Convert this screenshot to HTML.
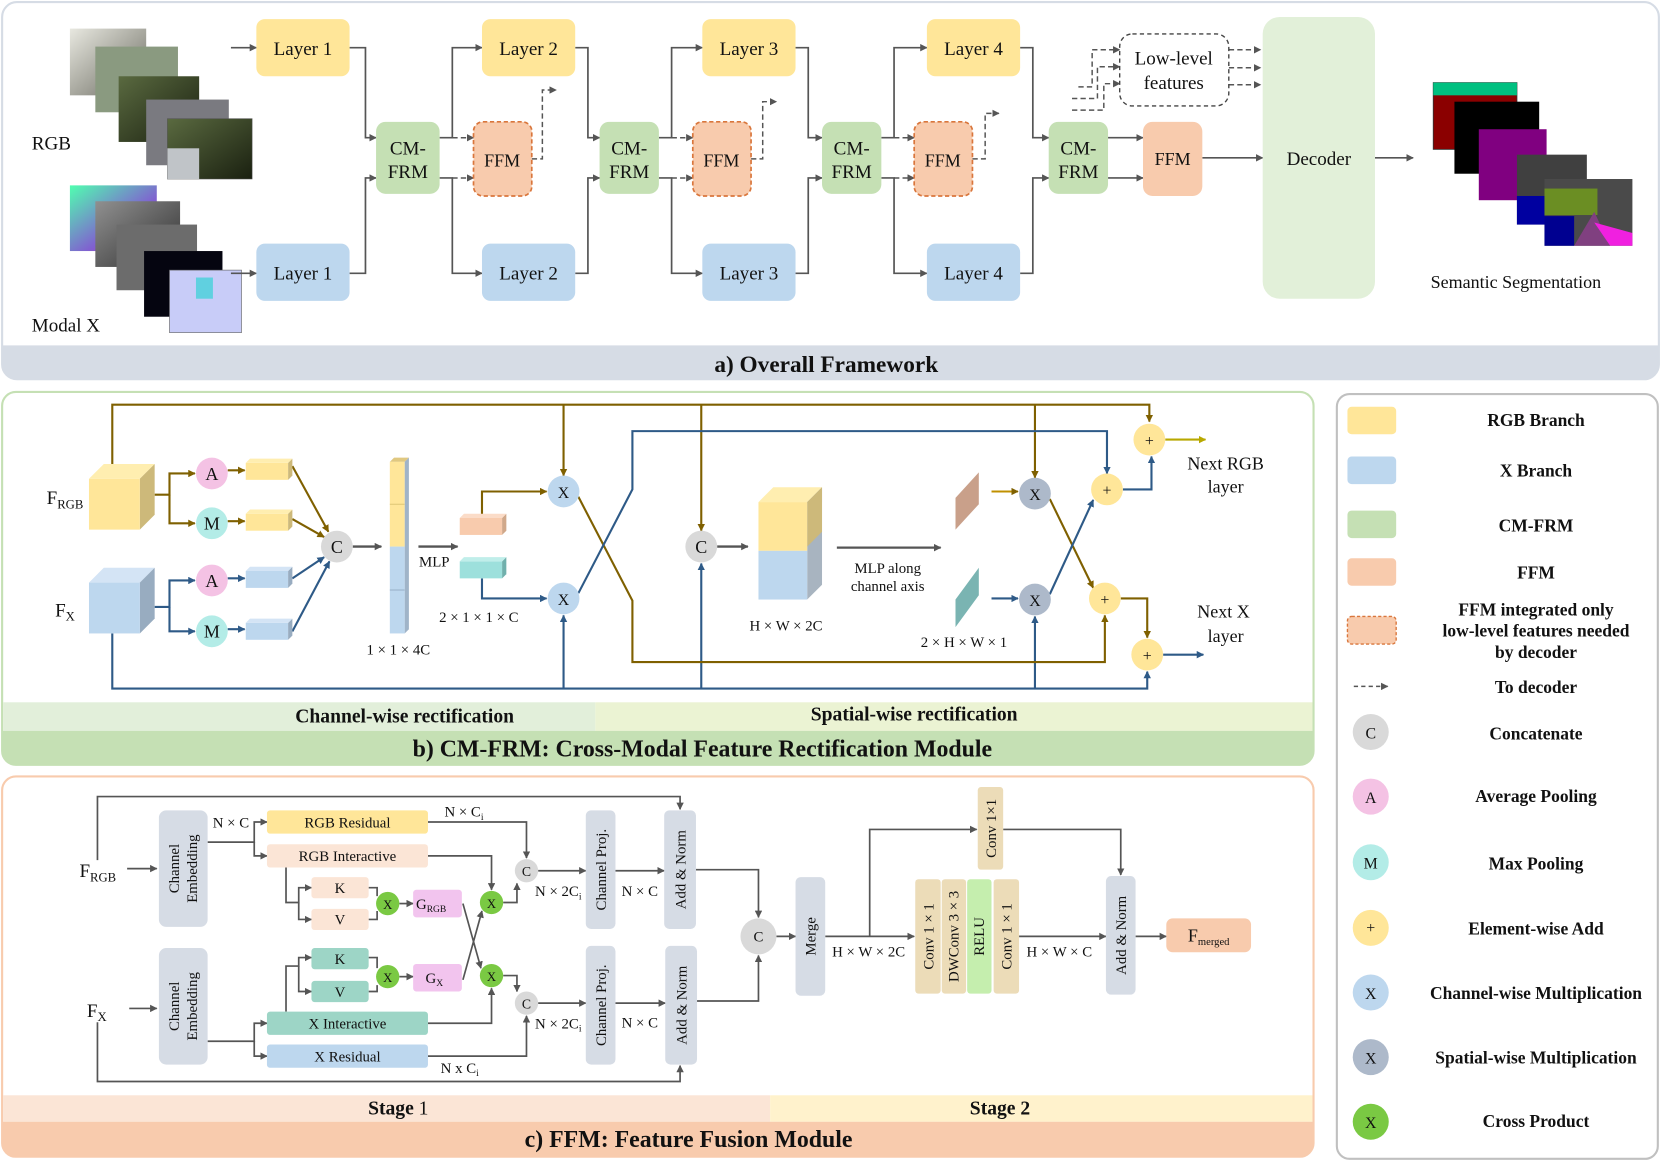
<!DOCTYPE html>
<html><head><meta charset="utf-8"><style>
html,body{margin:0;padding:0;background:#fff;}
svg{display:block;}
text{font-family:"Liberation Serif",serif;fill:#111;}
.b{font-weight:bold;}
</style></head><body>
<svg width="1661" height="1167" viewBox="0 0 1568 1101.7" preserveAspectRatio="none" xmlns="http://www.w3.org/2000/svg">
<defs>
<marker id="ag" viewBox="0 0 10 10" refX="9" refY="5" markerWidth="7" markerHeight="7" markerUnits="userSpaceOnUse" orient="auto"><path d="M0,0L10,5L0,10z" fill="#555"/></marker>
<marker id="ab" viewBox="0 0 10 10" refX="9" refY="5" markerWidth="7" markerHeight="7" markerUnits="userSpaceOnUse" orient="auto"><path d="M0,0L10,5L0,10z" fill="#7f6000"/></marker>
<marker id="au" viewBox="0 0 10 10" refX="9" refY="5" markerWidth="7" markerHeight="7" markerUnits="userSpaceOnUse" orient="auto"><path d="M0,0L10,5L0,10z" fill="#2e5a87"/></marker>
<marker id="ay" viewBox="0 0 10 10" refX="9" refY="5" markerWidth="7" markerHeight="7" markerUnits="userSpaceOnUse" orient="auto"><path d="M0,0L10,5L0,10z" fill="#b8a800"/></marker>
<linearGradient id="g1" x1="0" y1="0" x2="1" y2="1"><stop offset="0" stop-color="#e8e8e0"/><stop offset="1" stop-color="#6a6a60"/></linearGradient>
<linearGradient id="g2" x1="0" y1="0" x2="1" y2="1"><stop offset="0" stop-color="#5a6a40"/><stop offset="1" stop-color="#1a2010"/></linearGradient>
<linearGradient id="g3" x1="0" y1="0" x2="1" y2="1"><stop offset="0" stop-color="#50ffb0"/><stop offset="0.6" stop-color="#8060d0"/><stop offset="1" stop-color="#d020a0"/></linearGradient>
<linearGradient id="g4" x1="0" y1="0" x2="1" y2="1"><stop offset="0" stop-color="#909090"/><stop offset="1" stop-color="#303030"/></linearGradient>
</defs>

<!-- ===== Section a ===== -->
<rect x="2" y="2" width="1564" height="356" rx="14" fill="#fff" stroke="#d6dce5" stroke-width="2"/>
<path d="M2,326 H1566 V344 a14,14 0 0 1 -14,14 H16 a14,14 0 0 1 -14,-14 Z" fill="#d6dce5"/>
<text x="780" y="351" font-size="22" class="b" text-anchor="middle">a)  Overall Framework</text>

<rect x="66" y="27" width="72" height="63" fill="url(#g1)"/>
<rect x="90" y="44" width="78" height="62" fill="#8a9a80"/>
<rect x="112" y="72" width="76" height="62" fill="url(#g2)"/>
<rect x="138" y="94" width="78" height="62" fill="#7a7a80"/>
<rect x="158" y="112" width="80" height="57" fill="url(#g2)" stroke="#555" stroke-width="0.5"/>
<rect x="158" y="140" width="30" height="29" fill="#c0c4c8"/>
<text x="30" y="141" font-size="18">RGB</text>
<rect x="66" y="175" width="82" height="62" fill="url(#g3)"/>
<rect x="90" y="190" width="80" height="62" fill="url(#g4)"/>
<rect x="110" y="212" width="76" height="62" fill="#6c6c6c"/>
<rect x="136" y="237" width="74" height="62" fill="#050510"/>
<rect x="160" y="255" width="68" height="59" fill="#c8ccf8" stroke="#666" stroke-width="0.6"/>
<rect x="185" y="262" width="16" height="20" fill="#60d0e0"/>
<text x="30" y="313" font-size="18">Modal X</text>

<g fill="none" stroke="#555" stroke-width="1.6">
<path d="M218,45H242" marker-end="url(#ag)"/>
<path d="M218,258H242" marker-end="url(#ag)"/>
<path d="M330,45H345V130H355" marker-end="url(#ag)"/>
<path d="M330,258H345V168H355" marker-end="url(#ag)"/>
<path d="M415,130H427V45H455" marker-end="url(#ag)"/>
<path d="M415,168H427V258H455" marker-end="url(#ag)"/>
<path d="M543,45H555V130H566" marker-end="url(#ag)"/>
<path d="M543,258H555V168H566" marker-end="url(#ag)"/>
<path d="M622,130H634V45H663" marker-end="url(#ag)"/>
<path d="M622,168H634V258H663" marker-end="url(#ag)"/>
<path d="M751,45H763V130H776" marker-end="url(#ag)"/>
<path d="M751,258H763V168H776" marker-end="url(#ag)"/>
<path d="M832,130H844V45H875" marker-end="url(#ag)"/>
<path d="M832,168H844V258H875" marker-end="url(#ag)"/>
<path d="M963,45H975V130H990" marker-end="url(#ag)"/>
<path d="M963,258H975V168H990" marker-end="url(#ag)"/>
<path d="M1046,130H1079" marker-end="url(#ag)"/>
<path d="M1046,168H1079" marker-end="url(#ag)"/>
<path d="M1135,149H1192" marker-end="url(#ag)"/>
<path d="M1298,149H1334" marker-end="url(#ag)"/>
</g>
<g fill="none" stroke="#555" stroke-width="1.4" stroke-dasharray="5,3">
<path d="M427,130H447" marker-end="url(#ag)"/>
<path d="M427,168H447" marker-end="url(#ag)"/>
<path d="M502,150H512V85H525" marker-end="url(#ag)"/>
<path d="M634,130H654" marker-end="url(#ag)"/>
<path d="M634,168H654" marker-end="url(#ag)"/>
<path d="M709,150H720V96H733" marker-end="url(#ag)"/>
<path d="M844,130H863" marker-end="url(#ag)"/>
<path d="M844,168H863" marker-end="url(#ag)"/>
<path d="M918,150H930V107H943" marker-end="url(#ag)"/>
<path d="M1018,82H1031V47H1057" marker-end="url(#ag)"/>
<path d="M1012,93H1036V63H1057" marker-end="url(#ag)"/>
<path d="M1012,104H1042V79H1057" marker-end="url(#ag)"/>
<path d="M1160,47H1190" marker-end="url(#ag)"/>
<path d="M1160,64H1190" marker-end="url(#ag)"/>
<path d="M1160,80H1190" marker-end="url(#ag)"/>
</g>

<g font-size="18" text-anchor="middle">
<rect x="242" y="18" width="88" height="54" rx="8" fill="#ffe699"/><text x="286" y="52">Layer 1</text>
<rect x="242" y="230" width="88" height="54" rx="8" fill="#bdd7ee"/><text x="286" y="264">Layer 1</text>
<rect x="455" y="18" width="88" height="54" rx="8" fill="#ffe699"/><text x="499" y="52">Layer 2</text>
<rect x="455" y="230" width="88" height="54" rx="8" fill="#bdd7ee"/><text x="499" y="264">Layer 2</text>
<rect x="663" y="18" width="88" height="54" rx="8" fill="#ffe699"/><text x="707" y="52">Layer 3</text>
<rect x="663" y="230" width="88" height="54" rx="8" fill="#bdd7ee"/><text x="707" y="264">Layer 3</text>
<rect x="875" y="18" width="88" height="54" rx="8" fill="#ffe699"/><text x="919" y="52">Layer 4</text>
<rect x="875" y="230" width="88" height="54" rx="8" fill="#bdd7ee"/><text x="919" y="264">Layer 4</text>
<rect x="355" y="115" width="60" height="68" rx="9" fill="#c5e0b4"/><text x="385" y="146">CM-</text><text x="385" y="168">FRM</text>
<rect x="566" y="115" width="56" height="68" rx="9" fill="#c5e0b4"/><text x="594" y="146">CM-</text><text x="594" y="168">FRM</text>
<rect x="776" y="115" width="56" height="68" rx="9" fill="#c5e0b4"/><text x="804" y="146">CM-</text><text x="804" y="168">FRM</text>
<rect x="990" y="115" width="56" height="68" rx="9" fill="#c5e0b4"/><text x="1018" y="146">CM-</text><text x="1018" y="168">FRM</text>
<g font-size="17">
<rect x="447" y="115" width="55" height="70" rx="9" fill="#f8cbad" stroke="#d9763c" stroke-width="1.6" stroke-dasharray="4,2.5"/><text x="474" y="157">FFM</text>
<rect x="654" y="115" width="55" height="70" rx="9" fill="#f8cbad" stroke="#d9763c" stroke-width="1.6" stroke-dasharray="4,2.5"/><text x="681" y="157">FFM</text>
<rect x="863" y="115" width="55" height="70" rx="9" fill="#f8cbad" stroke="#d9763c" stroke-width="1.6" stroke-dasharray="4,2.5"/><text x="890" y="157">FFM</text>
<rect x="1079" y="115" width="56" height="70" rx="9" fill="#f8cbad"/><text x="1107" y="156">FFM</text>
</g>
<rect x="1057" y="32" width="103" height="68" rx="12" fill="#fff" stroke="#444" stroke-width="1.3" stroke-dasharray="4,3"/>
<text x="1108" y="61" font-size="18">Low-level</text><text x="1108" y="84" font-size="18">features</text>
<rect x="1192" y="16" width="106" height="266" rx="16" fill="#e2f0d9"/>
<text x="1245" y="156">Decoder</text>
<text x="1431" y="272" font-size="17">Semantic Segmentation</text>
</g>
<rect x="1353" y="78" width="79" height="63" fill="#8b0000" stroke="#333" stroke-width="0.8"/>
<rect x="1353" y="78" width="79" height="12" fill="#00c080"/>
<rect x="1373" y="96" width="80" height="68" fill="#000"/>
<rect x="1396" y="122" width="64" height="67" fill="#800080"/>
<rect x="1432" y="146" width="66" height="66" fill="#404040"/>
<rect x="1432" y="185" width="30" height="27" fill="#0000a0"/>
<rect x="1458" y="169" width="83" height="63" fill="#4a4a4a"/>
<rect x="1458" y="178" width="50" height="25" fill="#6b8e23"/>
<rect x="1458" y="204" width="28" height="28" fill="#000090"/>
<polygon points="1486,232 1505,200 1520,232" fill="#804080"/>
<polygon points="1505,210 1541,220 1541,232 1520,232" fill="#f020e0"/>

<!-- ===== Section b ===== -->
<rect x="2" y="370" width="1238" height="352" rx="13" fill="#fff" stroke="#c5e0b4" stroke-width="2"/>
<rect x="3" y="663" width="559" height="27" fill="#e2efda"/>
<rect x="562" y="663" width="677" height="27" fill="#ebf3d3"/>
<path d="M2,690 H1240 V709 a13,13 0 0 1 -13,13 H15 a13,13 0 0 1 -13,-13 Z" fill="#c5e0b4"/>
<text x="382" y="682" font-size="18.5" class="b" text-anchor="middle">Channel-wise rectification</text>
<text x="863" y="680" font-size="18.5" class="b" text-anchor="middle">Spatial-wise rectification</text>
<text x="663" y="714" font-size="22.5" class="b" text-anchor="middle">b)  CM-FRM: Cross-Modal Feature Rectification Module</text>

<g fill="none" stroke-width="2">
<path d="M106,438V382H1085V398" stroke="#7f6000" marker-end="url(#ab)"/>
<path d="M532,382V449" stroke="#7f6000" marker-end="url(#ab)"/>
<path d="M662,382V501" stroke="#7f6000" marker-end="url(#ab)"/>
<path d="M977,382V451" stroke="#7f6000" marker-end="url(#ab)"/>
<path d="M106,598V650H1083V634" stroke="#2e5a87" marker-end="url(#au)"/>
<path d="M532,650V581" stroke="#2e5a87" marker-end="url(#au)"/>
<path d="M662,650V532" stroke="#2e5a87" marker-end="url(#au)"/>
<path d="M977,650V582" stroke="#2e5a87" marker-end="url(#au)"/>
<path d="M546,469L597,567V625H1043V581" stroke="#7f6000" marker-end="url(#ab)"/>
<path d="M546,560L597,462V407H1045V447" stroke="#2e5a87" marker-end="url(#au)"/>
<path d="M146,467H160V447H184" stroke="#7f6000" marker-end="url(#ab)"/>
<path d="M160,467V494H184" stroke="#7f6000" marker-end="url(#ab)"/>
<path d="M146,573H160V548H184" stroke="#2e5a87" marker-end="url(#au)"/>
<path d="M160,573V596H184" stroke="#2e5a87" marker-end="url(#au)"/>
<path d="M215,444H231" stroke="#7f6000" marker-end="url(#ab)"/>
<path d="M215,492H231" stroke="#7f6000" marker-end="url(#ab)"/>
<path d="M215,546H231" stroke="#2e5a87" marker-end="url(#au)"/>
<path d="M215,594H231" stroke="#2e5a87" marker-end="url(#au)"/>
<path d="M276,440L310,502" stroke="#7f6000" marker-end="url(#ab)"/>
<path d="M276,490L306,507" stroke="#7f6000" marker-end="url(#ab)"/>
<path d="M276,546L306,526" stroke="#2e5a87" marker-end="url(#au)"/>
<path d="M276,596L311,530" stroke="#2e5a87" marker-end="url(#au)"/>
<path d="M455,487V464H516" stroke="#7f6000" marker-end="url(#ab)"/>
<path d="M455,546V565H516" stroke="#2e5a87" marker-end="url(#au)"/>
<path d="M936,464H961" stroke="#c09000" marker-end="url(#ab)"/>
<path d="M936,565H961" stroke="#2e5a87" marker-end="url(#au)"/>
<path d="M991,471L1032,555" stroke="#7f6000" marker-end="url(#ab)"/>
<path d="M991,561L1032,472" stroke="#2e5a87" marker-end="url(#au)"/>
<path d="M1060,462H1087V431" stroke="#2e5a87" marker-end="url(#au)"/>
<path d="M1058,565H1083V602" stroke="#7f6000" marker-end="url(#ab)"/>
<path d="M1100,415H1138" stroke="#b8a800" marker-end="url(#ay)"/>
<path d="M1098,618H1136" stroke="#2e5a87" marker-end="url(#au)"/>
</g>
<g fill="none" stroke="#555" stroke-width="2.2">
<path d="M333,516H360" marker-end="url(#ag)"/>
<path d="M395,516H432" marker-end="url(#ag)"/>
<path d="M677,516H706" marker-end="url(#ag)"/>
<path d="M790,517H888" marker-end="url(#ag)"/>
</g>
<polygon points="84,452 98,438 146,438 132,452" fill="#ffeeb0"/>
<polygon points="132,452 146,438 146,486 132,500" fill="#cdb97a"/>
<rect x="84" y="452" width="48" height="48" fill="#ffe699"/>
<polygon points="84,550 98,536 146,536 132,550" fill="#d4e4f5"/>
<polygon points="132,550 146,536 146,584 132,598" fill="#98acc0"/>
<rect x="84" y="550" width="48" height="48" fill="#bdd7ee"/>
<text x="44" y="476" font-size="18">F<tspan font-size="12" dy="4">RGB</tspan></text>
<text x="52" y="582" font-size="18">F<tspan font-size="12" dy="4">X</tspan></text>
<g>
<rect x="232" y="437" width="40" height="16" fill="#ffe699"/><polygon points="272,437 276,433 276,449 272,453" fill="#cdb97a"/><polygon points="232,437 236,433 276,433 272,437" fill="#ffeeb0"/>
<rect x="232" y="485" width="40" height="16" fill="#ffe699"/><polygon points="272,485 276,481 276,497 272,501" fill="#cdb97a"/><polygon points="232,485 236,481 276,481 272,485" fill="#ffeeb0"/>
<rect x="232" y="539" width="40" height="16" fill="#bdd7ee"/><polygon points="272,539 276,535 276,551 272,555" fill="#98acc0"/><polygon points="232,539 236,535 276,535 272,539" fill="#d4e4f5"/>
<rect x="232" y="588" width="40" height="16" fill="#bdd7ee"/><polygon points="272,588 276,584 276,600 272,604" fill="#98acc0"/><polygon points="232,588 236,584 276,584 272,588" fill="#d4e4f5"/>
<rect x="434" y="489" width="40" height="16" fill="#f8cbad"/><polygon points="474,489 478,485 478,501 474,505" fill="#d0a88a"/><polygon points="434,489 438,485 478,485 474,489" fill="#fbdcc8"/>
<rect x="434" y="530" width="40" height="16" fill="#9de0dc"/><polygon points="474,530 478,526 478,542 474,546" fill="#70b0ac"/><polygon points="434,530 438,526 478,526 474,530" fill="#c0eeea"/>
</g>
<polygon points="368,436 372,432 386,432 382,436" fill="#e0c880"/>
<polygon points="382,436 386,432 386,594 382,598" fill="#a0b4c8"/>
<rect x="368" y="436" width="14" height="80" fill="#ffe699"/>
<rect x="368" y="516" width="14" height="82" fill="#bdd7ee"/>
<line x1="368" y1="476" x2="382" y2="476" stroke="#d8c070" stroke-width="0.8"/>
<line x1="368" y1="557" x2="382" y2="557" stroke="#90a8c0" stroke-width="0.8"/>
<polygon points="716,474 730,460 776,460 762,474" fill="#ffeeb0"/>
<polygon points="762,474 776,460 776,552 762,566" fill="#a8b4c0"/>
<polygon points="762,474 776,460 776,502 762,516" fill="#cdb97a"/>
<rect x="716" y="474" width="46" height="46" fill="#ffe699"/>
<rect x="716" y="520" width="46" height="46" fill="#bdd7ee"/>
<polygon points="902,470 924,446 924,476 902,500" fill="#c9a08a"/>
<polygon points="902,566 924,536 924,562 902,592" fill="#7ab4b2"/>
<g font-size="17" text-anchor="middle">
<circle cx="200" cy="447" r="15" fill="#f4c2e4"/><text x="200" y="453">A</text>
<circle cx="200" cy="494" r="15" fill="#b3ece7"/><text x="200" y="500">M</text>
<circle cx="200" cy="548" r="15" fill="#f4c2e4"/><text x="200" y="554">A</text>
<circle cx="200" cy="596" r="15" fill="#b3ece7"/><text x="200" y="602">M</text>
<circle cx="318" cy="516" r="15" fill="#d9d9d9"/><text x="318" y="522">C</text>
<circle cx="662" cy="516" r="15" fill="#d9d9d9"/><text x="662" y="522">C</text>
<circle cx="532" cy="464" r="15" fill="#bdd7ee"/><text x="532" y="470" font-size="15">X</text>
<circle cx="532" cy="565" r="15" fill="#bdd7ee"/><text x="532" y="571" font-size="15">X</text>
<circle cx="977" cy="466" r="15" fill="#adb9ca"/><text x="977" y="472" font-size="15">X</text>
<circle cx="977" cy="566" r="15" fill="#adb9ca"/><text x="977" y="572" font-size="15">X</text>
<circle cx="1045" cy="462" r="15" fill="#ffe699"/><text x="1045" y="468" font-size="15">+</text>
<circle cx="1043" cy="565" r="15" fill="#ffe699"/><text x="1043" y="571" font-size="15">+</text>
<circle cx="1085" cy="415" r="15" fill="#ffe699"/><text x="1085" y="421" font-size="15">+</text>
<circle cx="1083" cy="618" r="15" fill="#ffe699"/><text x="1083" y="624" font-size="15">+</text>
</g>
<g font-size="14" text-anchor="middle">
<text x="410" y="535">MLP</text>
<text x="376" y="618">1 × 1 × 4C</text>
<text x="452" y="587">2 × 1 × 1 × C</text>
<text x="742" y="595">H × W × 2C</text>
<text x="838" y="541">MLP along</text>
<text x="838" y="558">channel axis</text>
<text x="910" y="611">2 × H × W × 1</text>
<text x="1157" y="443" font-size="17">Next RGB</text>
<text x="1157" y="465" font-size="17">layer</text>
<text x="1155" y="583" font-size="17">Next X</text>
<text x="1157" y="606" font-size="17">layer</text>
</g>

<!-- ===== Section c ===== -->
<rect x="2" y="733" width="1238" height="359" rx="13" fill="#fff" stroke="#f8cbad" stroke-width="2"/>
<rect x="3" y="1034" width="724" height="25" fill="#fbe5d6"/>
<rect x="727" y="1034" width="512" height="25" fill="#fff2cc"/>
<path d="M2,1059 H1240 V1079 a13,13 0 0 1 -13,13 H15 a13,13 0 0 1 -13,-13 Z" fill="#f8cbad"/>
<text x="376" y="1052" font-size="18.5" class="b" text-anchor="middle">Stage <tspan font-weight="normal">1</tspan></text>
<text x="944" y="1052" font-size="18.5" class="b" text-anchor="middle">Stage 2</text>
<text x="650" y="1083" font-size="22.5" class="b" text-anchor="middle">c) FFM: Feature Fusion Module</text>

<g fill="none" stroke="#555" stroke-width="1.6">
<path d="M120,820H148" marker-end="url(#ag)"/>
<path d="M122,952H148" marker-end="url(#ag)"/>
<path d="M92,812V752H642V764" marker-end="url(#ag)"/>
<path d="M92,965V1021H642V1006" marker-end="url(#ag)"/>
<path d="M196,795H240V776H252" marker-end="url(#ag)"/>
<path d="M240,795V808H252" marker-end="url(#ag)"/>
<path d="M196,983H240V966H252" marker-end="url(#ag)"/>
<path d="M240,983V997H252" marker-end="url(#ag)"/>
<path d="M270,819V852H282V838H294" marker-end="url(#ag)"/>
<path d="M282,852V868H294" marker-end="url(#ag)"/>
<path d="M270,955V912H282V904H294" marker-end="url(#ag)"/>
<path d="M282,912V936H294" marker-end="url(#ag)"/>
<path d="M348,838H356V846"/>
<path d="M348,868H356V860"/>
<path d="M348,904H356V914"/>
<path d="M348,936H356V930"/>
<path d="M377,853H390" marker-end="url(#ag)"/>
<path d="M377,922H390" marker-end="url(#ag)"/>
<path d="M404,808H464V840" marker-end="url(#ag)"/>
<path d="M404,966H464V933" marker-end="url(#ag)"/>
<path d="M404,776H497V810" marker-end="url(#ag)"/>
<path d="M404,997H497V959" marker-end="url(#ag)"/>
<path d="M475,852H488V834" marker-end="url(#ag)"/>
<path d="M475,921H488V936" marker-end="url(#ag)"/>
<path d="M437,853L454,914" marker-end="url(#ag)"/>
<path d="M437,925L455,860" marker-end="url(#ag)"/>
<path d="M508,822H553" marker-end="url(#ag)"/>
<path d="M508,947H553" marker-end="url(#ag)"/>
<path d="M581,822H627" marker-end="url(#ag)"/>
<path d="M581,947H628" marker-end="url(#ag)"/>
<path d="M657,821H716V866" marker-end="url(#ag)"/>
<path d="M658,945H716V902" marker-end="url(#ag)"/>
<path d="M733,884H751" marker-end="url(#ag)"/>
<path d="M779,884H863" marker-end="url(#ag)"/>
<path d="M821,884V783H922" marker-end="url(#ag)"/>
<path d="M947,783H1058V826" marker-end="url(#ag)"/>
<path d="M962,884H1044" marker-end="url(#ag)"/>
<path d="M1072,884H1101" marker-end="url(#ag)"/>
</g>
<text x="75" y="828" font-size="18">F<tspan font-size="12" dy="4">RGB</tspan></text>
<text x="82" y="960" font-size="18">F<tspan font-size="12" dy="4">X</tspan></text>
<g font-size="14" text-anchor="middle">
<rect x="150" y="765" width="46" height="110" rx="7" fill="#d6dce5"/>
<text transform="translate(169,820) rotate(-90)" font-size="14">Channel</text>
<text transform="translate(186,820) rotate(-90)" font-size="14">Embedding</text>
<rect x="150" y="895" width="46" height="110" rx="7" fill="#d6dce5"/>
<text transform="translate(169,950) rotate(-90)" font-size="14">Channel</text>
<text transform="translate(186,950) rotate(-90)" font-size="14">Embedding</text>
<rect x="252" y="765" width="152" height="22" rx="3" fill="#ffe699"/><text x="328" y="781">RGB Residual</text>
<rect x="252" y="797" width="152" height="22" rx="3" fill="#fbe5d6"/><text x="328" y="813">RGB Interactive</text>
<rect x="294" y="828" width="54" height="20" rx="3" fill="#fbe5d6"/><text x="321" y="843">K</text>
<rect x="294" y="858" width="54" height="20" rx="3" fill="#fbe5d6"/><text x="321" y="873">V</text>
<rect x="294" y="895" width="54" height="20" rx="3" fill="#9dd5c6"/><text x="321" y="910">K</text>
<rect x="294" y="926" width="54" height="20" rx="3" fill="#9dd5c6"/><text x="321" y="941">V</text>
<rect x="252" y="955" width="152" height="22" rx="3" fill="#9dd5c6"/><text x="328" y="971">X Interactive</text>
<rect x="252" y="986" width="152" height="22" rx="3" fill="#bdd7ee"/><text x="328" y="1002">X Residual</text>
<rect x="390" y="840" width="46" height="26" rx="3" fill="#f2c4ee"/><text x="407" y="858">G<tspan font-size="9" dy="3">RGB</tspan></text>
<rect x="390" y="910" width="46" height="26" rx="3" fill="#f2c4ee"/><text x="410" y="928">G<tspan font-size="9" dy="3">X</tspan></text>
<circle cx="366" cy="853" r="11" fill="#7ac943"/><text x="366" y="858" font-size="12">X</text>
<circle cx="366" cy="922" r="11" fill="#7ac943"/><text x="366" y="927" font-size="12">X</text>
<circle cx="464" cy="852" r="11" fill="#7ac943"/><text x="464" y="857" font-size="12">X</text>
<circle cx="464" cy="921" r="11" fill="#7ac943"/><text x="464" y="926" font-size="12">X</text>
<circle cx="497" cy="822" r="11" fill="#d9d9d9"/><text x="497" y="827" font-size="13">C</text>
<circle cx="497" cy="947" r="11" fill="#d9d9d9"/><text x="497" y="952" font-size="13">C</text>
<rect x="553" y="765" width="28" height="112" rx="5" fill="#d6dce5"/>
<text transform="translate(572,821) rotate(-90)">Channel Proj.</text>
<rect x="553" y="893" width="28" height="112" rx="5" fill="#d6dce5"/>
<text transform="translate(572,949) rotate(-90)">Channel Proj.</text>
<rect x="627" y="765" width="30" height="112" rx="5" fill="#d6dce5"/>
<text transform="translate(647,821) rotate(-90)">Add &amp; Norm</text>
<rect x="628" y="893" width="30" height="112" rx="5" fill="#d6dce5"/>
<text transform="translate(648,949) rotate(-90)">Add &amp; Norm</text>
<text x="218" y="781">N × C</text>
<text x="438" y="771">N × C<tspan font-size="9" dy="3">i</tspan></text>
<text x="527" y="846">N × 2C<tspan font-size="9" dy="3">i</tspan></text>
<text x="604" y="846">N × C</text>
<text x="527" y="971">N × 2C<tspan font-size="9" dy="3">i</tspan></text>
<text x="604" y="970">N × C</text>
<text x="434" y="1013">N x C<tspan font-size="9" dy="3">i</tspan></text>
<circle cx="716" cy="884" r="17" fill="#d9d9d9"/><text x="716" y="889">C</text>
<rect x="751" y="828" width="28" height="112" rx="5" fill="#d6dce5"/>
<text transform="translate(770,884) rotate(-90)">Merge</text>
<text x="820" y="903">H × W × 2C</text>
<rect x="923" y="743" width="24" height="78" rx="3" fill="#ecdcb8"/>
<text transform="translate(940,782) rotate(-90)">Conv 1×1</text>
<rect x="864" y="830" width="24" height="108" rx="3" fill="#ecdcb8"/>
<text transform="translate(881,884) rotate(-90)">Conv 1 × 1</text>
<rect x="889" y="830" width="23" height="108" rx="3" fill="#ecdcb8"/>
<text transform="translate(905,884) rotate(-90)">DWConv 3 × 3</text>
<rect x="913" y="830" width="23" height="108" rx="3" fill="#c5eeae"/>
<text transform="translate(929,884) rotate(-90)">RELU</text>
<rect x="938" y="830" width="24" height="108" rx="3" fill="#ecdcb8"/>
<text transform="translate(955,884) rotate(-90)">Conv 1 × 1</text>
<text x="1000" y="903">H × W × C</text>
<rect x="1044" y="827" width="28" height="112" rx="5" fill="#d6dce5"/>
<text transform="translate(1063,883) rotate(-90)">Add &amp; Norm</text>
<rect x="1101" y="867" width="80" height="32" rx="6" fill="#f8cbad"/>
<text x="1141" y="889" font-size="17">F<tspan font-size="10" dy="3">merged</tspan></text>
</g>

<!-- ===== Legend ===== -->
<rect x="1262" y="372" width="303" height="722" rx="12" fill="#fff" stroke="#c0c0c0" stroke-width="2"/>
<rect x="1272" y="384" width="46" height="26" rx="4" fill="#ffe699"/>
<rect x="1272" y="431" width="46" height="26" rx="4" fill="#bdd7ee"/>
<rect x="1272" y="482" width="46" height="26" rx="4" fill="#c5e0b4"/>
<rect x="1272" y="527" width="46" height="26" rx="4" fill="#f8cbad"/>
<rect x="1272" y="582" width="46" height="26" rx="4" fill="#f8cbad" stroke="#d9763c" stroke-width="1.3" stroke-dasharray="3,2"/>
<path d="M1278,648H1310" fill="none" stroke="#555" stroke-width="1.4" stroke-dasharray="4,3" marker-end="url(#ag)"/>
<g font-size="15" text-anchor="middle">
<circle cx="1294" cy="691" r="17" fill="#d9d9d9"/><text x="1294" y="697">C</text>
<circle cx="1294" cy="752" r="17" fill="#f4c2e4"/><text x="1294" y="758">A</text>
<circle cx="1294" cy="814" r="17" fill="#b3ece7"/><text x="1294" y="820">M</text>
<circle cx="1294" cy="876" r="17" fill="#ffe699"/><text x="1294" y="881">+</text>
<circle cx="1294" cy="937" r="17" fill="#bdd7ee"/><text x="1294" y="943">X</text>
<circle cx="1294" cy="998" r="17" fill="#adb9ca"/><text x="1294" y="1004">X</text>
<circle cx="1294" cy="1059" r="17" fill="#7ac943"/><text x="1294" y="1065">X</text>
</g>
<g font-size="16.5" class="b" text-anchor="middle">
<text x="1450" y="402">RGB Branch</text>
<text x="1450" y="450">X Branch</text>
<text x="1450" y="502">CM-FRM</text>
<text x="1450" y="546">FFM</text>
<text x="1450" y="581">FFM integrated only</text>
<text x="1450" y="601">low-level features needed</text>
<text x="1450" y="621">by decoder</text>
<text x="1450" y="654">To decoder</text>
<text x="1450" y="698">Concatenate</text>
<text x="1450" y="757">Average Pooling</text>
<text x="1450" y="821">Max Pooling</text>
<text x="1450" y="882">Element-wise Add</text>
<text x="1450" y="943">Channel-wise Multiplication</text>
<text x="1450" y="1004">Spatial-wise Multiplication</text>
<text x="1450" y="1064">Cross Product</text>
</g>
</svg>
</body></html>
